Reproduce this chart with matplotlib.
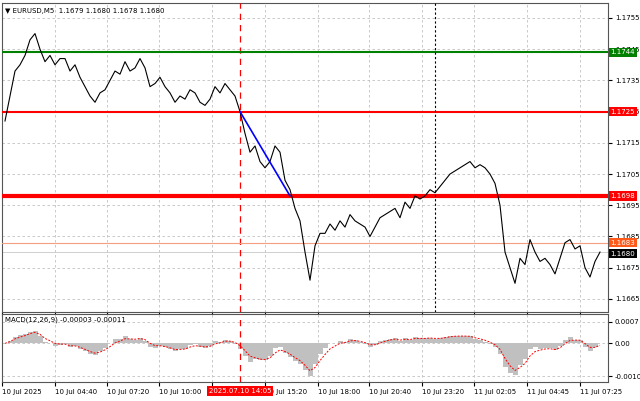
import matplotlib
matplotlib.use("Agg")
import matplotlib.pyplot as plt
import matplotlib.transforms as mtrans
import numpy as np
import pandas as pd

price = [1.1722,1.1730,1.1738,1.1740,1.1743,1.1748,1.1750,1.1745,1.1741,1.1743,1.1740,1.1742,1.1742,1.1738,1.1740,1.1736,1.1733,1.1730,1.1728,1.1731,1.1732,1.1735,1.1738,1.1737,1.1741,1.1738,1.1739,1.1742,1.1739,1.1733,1.1734,1.1736,1.1733,1.1731,1.1728,1.1730,1.1729,1.1732,1.1731,1.1728,1.1727,1.1729,1.1733,1.1731,1.1734,1.1732,1.1730,1.1725,1.1718,1.1712,1.1714,1.1709,1.1707,1.1709,1.1714,1.1712,1.1703,1.1700,1.1694,1.1690,1.1680,1.1671,1.1682,1.1686,1.1686,1.1689,1.1687,1.1690,1.1688,1.1692,1.1690,1.1689,1.1688,1.1685,1.1688,1.1691,1.1692,1.1693,1.1694,1.1691,1.1696,1.1694,1.1698,1.1697,1.1698,1.1700,1.1699,1.1701,1.1703,1.1705,1.1706,1.1707,1.1708,1.1709,1.1707,1.1708,1.1707,1.1705,1.1702,1.1695,1.1680,1.1675,1.1670,1.1678,1.1676,1.1684,1.1680,1.1677,1.1678,1.1676,1.1673,1.1678,1.1683,1.1684,1.1681,1.1682,1.1675,1.1672,1.1677,1.1680]
levels = [1.1744, 1.1725, 1.1698]
level_colors = ["#008000", "#ff0000", "#ff0000"]
level_widths = [1.5, 1.5, 3.0]
tick_pos = [-0.6, 10, 20.4, 30.8, 41.4, 52, 62.6, 72.8, 83.4, 93.8, 104.4, 115]
tick_labels = ["10 Jul 2025","10 Jul 04:40","10 Jul 07:20","10 Jul 10:00","10 Jul 12:40","10 Jul 15:20","10 Jul 18:00","10 Jul 20:40","10 Jul 23:20","11 Jul 02:05","11 Jul 04:45","11 Jul 07:25"]
yticks = [1.1665,1.1675,1.1685,1.1695,1.1705,1.1715,1.1725,1.1735,1.1745,1.1755]

x = np.arange(len(price))
s = pd.Series(price)
macd = (s.ewm(span=3).mean() - s.ewm(span=6).mean())
macd = macd / abs(macd).max() * 0.00106
sig = macd.ewm(span=3).mean()

fig = plt.figure(figsize=(6.4, 4.01), dpi=100)
ax = fig.add_axes([2/640, 1-312/401, 606/640, 309/401])
ax2 = fig.add_axes([2/640, 1-382/401, 606/640, 68/401])
xl = (-0.6, 120.6)
fs = 5
for a in (ax, ax2):
    a.set_xlim(*xl)
    a.set_xticks(tick_pos)
    a.grid(True, color="#c0c0c0", ls=(0, (3, 3)), lw=0.6)
    a.tick_params(axis="y", which="both", left=False, right=True, labelleft=False, labelright=True, labelsize=fs, length=3, pad=2)
    a.tick_params(axis="x", labelsize=fs, length=3, pad=2)
    for sp in a.spines.values():
        sp.set_color("#555555"); sp.set_linewidth(0.8)
    a.axvline(47, color="red", ls=(0, (5, 4)), lw=0.9, zorder=3)

ax.set_ylim(1.16608, 1.17598)
ax.set_yticks(yticks)
ax.set_yticklabels([f"{v:.4f}" for v in yticks])
ax.set_xticklabels([])
ax.plot(x, price, color="black", lw=0.8, zorder=4)
ytr = ax.get_yaxis_transform()
def box(v, txt, fc, yv=None):
    ax.text(1.004, v if yv is None else yv, txt, transform=ytr, color="white", fontsize=fs, va="center", ha="left",
            bbox=dict(boxstyle="square,pad=0.25", fc=fc, ec="none"), zorder=10, clip_on=False)
for v, c, w in zip(levels, level_colors, level_widths):
    ax.axhline(v, color=c, lw=w, zorder=3)
    box(v, f"{v:.4f}", c)
ax.axhline(1.1683, color="#f4a080", lw=0.8, zorder=3)
ax.axhline(1.1680, color="#c8c8c8", lw=0.6, zorder=2)
box(1.1683, "1.1683", "#ff5a1a")
box(1.1680, "1.1680", "black", 1.16795)
ax.plot([47, 57], [1.1725, 1.1698], color="blue", lw=1.2, zorder=5)
ax.axvline(86, color="black", ls=(0, (2, 2)), lw=0.8, zorder=3)
ax.text(0.005, 0.985, "▼ EURUSD,M5  1.1679 1.1680 1.1678 1.1680", transform=ax.transAxes, fontsize=fs, va="top", ha="left")

ax2.bar(x, macd, width=1.0, color="#c0c0c0", zorder=2)
ax2.plot(x, sig, color="red", ls=(0, (2, 1.5)), lw=0.7, zorder=4)
ax2.set_ylim(-0.00125, 0.00095)
ax2.set_yticks([0.0007, 0.0, -0.00106])
ax2.set_yticklabels(["0.0007", "0.00", "-0.00106"])
ax2.set_xticklabels(tick_labels, ha="left")
ax2.text(0.005, 0.96, "MACD(12,26,9) -0.00003 -0.00011", transform=ax2.transAxes, fontsize=fs, va="top", ha="left")
btr = mtrans.blended_transform_factory(ax2.transData, ax2.transAxes)
ax2.text(47, -0.09, "2025.07.10 14:05", transform=btr, fontsize=fs, color="white", ha="center", va="top",
         bbox=dict(boxstyle="square,pad=0.3", fc="red", ec="none"), zorder=20, clip_on=False)
fig.savefig("out.png", dpi=100, facecolor="white")
